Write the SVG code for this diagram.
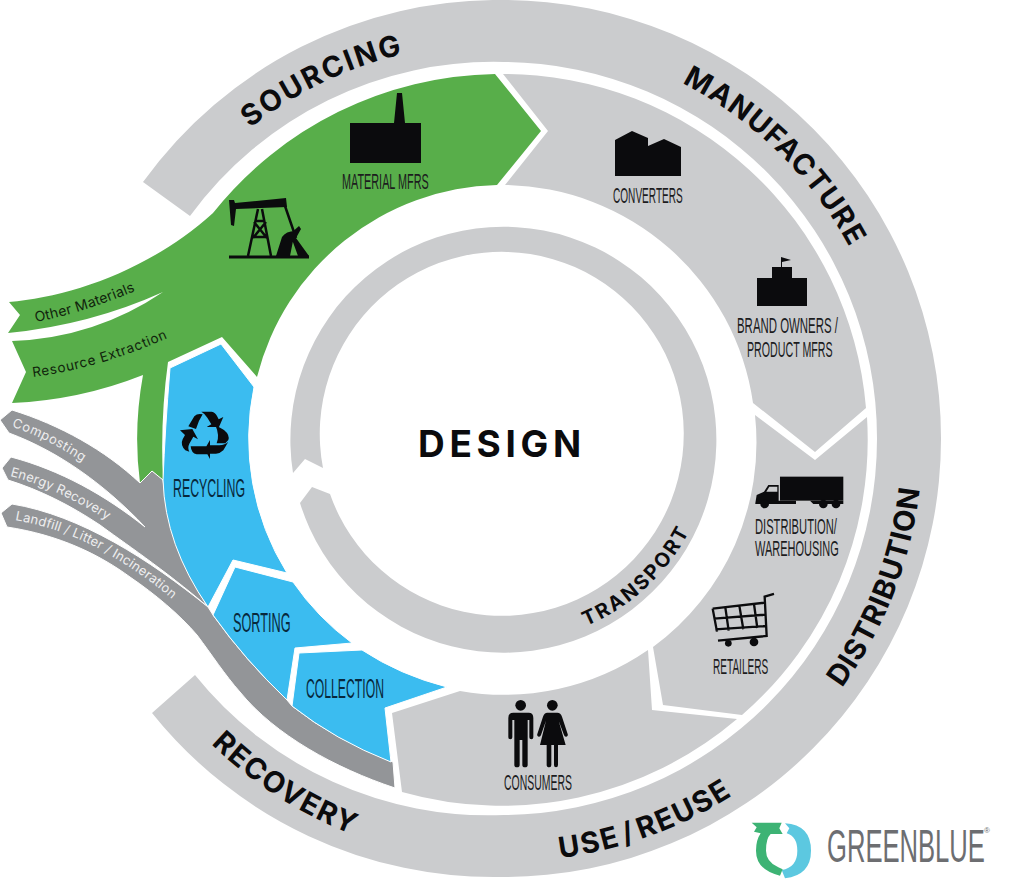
<svg xmlns="http://www.w3.org/2000/svg" width="1024" height="884" viewBox="0 0 1024 884">
<style>
.lg{fill:#cbccce}.gr{fill:#58ae4a}.bl{fill:#3bbcf0;stroke:#fff;stroke-width:1}.dg{fill:#939598;stroke:#fff;stroke-width:1}
.ic{fill:#0b0b0d}.st{fill:none;stroke:#0b0b0d;stroke-linecap:butt}
.c{font-family:"Liberation Sans",Arial,sans-serif;font-size:22px;fill:#1c1c1e;font-weight:400}
.cb{fill:#08283c}
.h{font-family:Inter,"Liberation Sans",sans-serif;font-weight:700;font-size:29px;fill:#0b0b0d}
.s{font-family:Inter,"Open Sans",sans-serif;font-size:13px}
</style>
<defs>
<path id="pSourcing" d="M250 128 A397 397 0 0 1 440 47"/>
<path id="pManu" d="M682 83 A397 397 0 0 1 880 320"/>
<path id="pDist" d="M842 688 A419 419 0 0 0 922 420"/>
<path id="pUse" d="M560 858 A422 422 0 0 0 780 760"/>
<path id="pRec" d="M211 744 A425 425 0 0 0 400 850"/>
<path id="pTrans" d="M586 626 A205 205 0 0 0 712 450"/>
<path id="pOther" d="M36 322 Q90 312 160 280"/>
<path id="pRes" d="M33 377 Q105 368 185 330"/>
<path id="pComp" d="M12 427 Q50 438 100 474"/>
<path id="pEn" d="M10 476 Q65 490 125 532"/>
<path id="pLand" d="M15 520 Q70 530 113 557 Q150 578 190 615"/>
</defs>
<rect width="1024" height="884" fill="#fff"/>
<g id="lifecycle-band">
<path class="lg" d="M143 182 A438 438 0 0 1 504 0 A438 438 0 0 1 941 439 A438 438 0 0 1 504 877 A438 438 0 0 1 152 713 L195 675 A376 376 0 0 0 504 815 A376 376 0 0 0 877 439 A376 376 0 0 0 504 62 A376 376 0 0 0 190 216 Z"/>
</g>
<g id="transport-ring">
<path class="lg" d="M300 503 L312 487 L330 494 A182 182 0 1 0 323 468 L305 459 L293 473 A213 213 0 1 1 300 503 Z"/>
<text class="h" style="font-size:20px;letter-spacing:2.2px"><textPath href="#pTrans">TRANSPORT</textPath></text>
</g>
<g id="design"><text x="418" y="457" font-family="Inter,'Liberation Sans',sans-serif" font-weight="700" font-size="37" letter-spacing="4.7" fill="#0b0b0d">DESIGN</text></g>
<g id="sourcing-label"><text class="h" style="letter-spacing:2.2px"><textPath href="#pSourcing">SOURCING</textPath></text></g>
<g id="manufacture-label"><text class="h" style="letter-spacing:1.2px"><textPath href="#pManu">MANUFACTURE</textPath></text></g>
<g id="distribution-label"><text class="h" style="letter-spacing:.8px"><textPath href="#pDist">DISTRIBUTION</textPath></text></g>
<g id="use-label"><text class="h" style="letter-spacing:1.7px;word-spacing:-5px"><textPath href="#pUse">USE / REUSE</textPath></text></g>
<g id="recovery-label"><text class="h" style="letter-spacing:1.5px"><textPath href="#pRec">RECOVERY</textPath></text></g>

<g id="material-stream">
<path class="gr" d="M495 74 L541 131 L497 185 A254 254 0 0 0 257 377 L222 337 L168 362 Q160 420 163 480 L152 471 L140 483 Q133 430 143 375 Q80 400 12 403 L26 372 L12 341 Q95 338 163 292 Q90 325 8 333 L20 315 L9 302 C70 297 150 270 213 213 A368 368 0 0 1 495 74 Z"/>
<text class="s" fill="#10240c" style="font-size:14px;letter-spacing:.2px"><textPath href="#pOther">Other Materials</textPath></text>
<text class="s" fill="#10240c" style="font-size:13.5px;letter-spacing:.7px"><textPath href="#pRes">Resource Extraction</textPath></text>
<g id="oil-pump">
<rect class="ic" x="229" y="255.500" width="80" height="3"/>
<path class="ic" d="M229 200 L234 200 L235 203 L286 198 L287 207 L236 209 L234 226 L231 225 Z"/>
<path class="st" stroke-width="2.500" d="M258 209 L248 256 M262 209 L271 256 M255 221 H265 M252 237 H268 M254 222 L267 238 M266 222 L253 238 M285 206 L296 238"/>
<path class="ic" d="M276 256 L282 237 Q286 231 295 231 L290 256 Z M290 234 L299 226 L301 229 L296 238 L309 256 H298 Z"/>
</g>
<g id="material-mfrs">
<path class="ic" d="M350 123 H394 L397 93 H402 L405 123 H421 V163 H350 Z"/>
<text class="c" transform="translate(342 189) scale(.493 1)">MATERIAL MFRS</text>
</g>
</g>
<g id="converters">
<path class="lg" d="M503 74 L548 131 L505 185 A254 254 0 0 1 753 403 L815 452 L866 408 A364 364 0 0 0 503 74 Z"/>
<path class="ic" d="M615 140 L632 131 L648 138 V146 L664 139 L681 147 V176 H615 Z"/>
<text class="c" transform="translate(613 203) scale(.458 1)">CONVERTERS</text>
</g>
<g id="brand-owners">
<path class="ic" d="M757 278 H772 V267 H781 V257 L791 260 L782 262 V267 H792 V278 H807 V306 H757 Z"/>
<text class="c" transform="translate(737 333) scale(.52 1)">BRAND OWNERS /</text>
<text class="c" transform="translate(747 357) scale(.485 1)">PRODUCT MFRS</text>
</g>
<g id="distribution">
<path class="lg" d="M755 415 L815 460 L867 417 A364 364 0 0 1 742 715 L663 705 L653 647 A254 254 0 0 0 755 415 Z"/>
<g transform="translate(640 380) scale(.3333)">
<rect class="ic" x="420" y="290" width="190" height="72"/>
<path class="ic" d="M346 370 L350 345 L372 335 L385 315 H416 V362 H468 V372 H346 Z M510 362 H610 V372 H520 Z"/>
<path class="lg" d="M379 335 L388 320 H412 V335 Z"/>
<circle class="ic" cx="374" cy="372" r="13"/><circle class="ic" cx="550" cy="372" r="13"/><circle class="ic" cx="588" cy="372" r="13"/>
</g>
<text class="c" transform="translate(755 534) scale(.508 1)">DISTRIBUTION/</text>
<text class="c" transform="translate(755 556) scale(.499 1)">WAREHOUSING</text>
</g>
<g id="retailers">
<g transform="translate(640 380) scale(.3333)">
<path class="st" stroke-width="7" d="M402 642 L374 650 L380 768 L234 782 M218 686 L374 668 M222 716 L376 704 M226 748 L378 738 M218 686 L231 755 M256 682 L266 752 M298 677 L310 748 M342 672 L352 744"/>
<circle class="ic" cx="265" cy="790" r="10"/><circle class="ic" cx="342" cy="786" r="13"/>
</g>
<text class="c" transform="translate(713 674) scale(.458 1)">RETAILERS</text>
</g>
<g id="consumers">
<path class="lg" d="M392 713 L460 691 A254 254 0 0 0 648 650 L652 710 L737 719 A364 364 0 0 1 402 792 Z"/>
<g transform="translate(490 690) scale(.3333)">
<circle class="ic" cx="92" cy="46" r="16"/><circle class="ic" cx="187" cy="46" r="16"/>
<path class="ic" d="M70 68 H116 Q130 68 130 84 V142 Q130 148 124 148 Q118 148 118 142 V90 H113 V225 Q113 232 105 232 Q97 232 97 225 V150 H89 V225 Q89 232 81 232 Q73 232 73 225 V90 H67 V142 Q67 148 61 148 Q55 148 55 142 V84 Q55 68 70 68 Z"/>
<path class="ic" d="M172 68 H202 Q212 68 216 80 L233 132 Q235 139 229 140 Q224 141 222 135 L206 92 L227 165 H204 V225 Q204 232 198 232 Q192 232 192 225 V165 H184 V225 Q184 232 178 232 Q170 232 170 225 V165 H150 L168 92 L153 135 Q151 141 146 140 Q140 139 142 132 L159 80 Q163 68 172 68 Z"/>
</g>
<text class="c" transform="translate(504 790) scale(.476 1)">CONSUMERS</text>
</g>
<g id="waste-streams">
<path class="dg" d="M12 410 C60 425 105 450 140 483 L152 471 L163 480 Q170 550 208 607 C165 570 120 540 100 525 C70 505 40 490 8 480 L2 468 L11 457 C60 470 105 495 145 527 C105 485 60 452 9 433 L0 420 Z"/>
<path class="dg" d="M12 504 L1 513 L7 527 C60 535 100 555 130 577 C155 594 180 615 197 635 C212 655 225 675 240 692 C275 735 335 768 395 788 L393 762 Q335 740 292 706 L287 700 Q245 660 213 615 L208 607 C150 560 80 515 12 504 Z"/>
<text class="s" fill="#eeeeef" style="letter-spacing:.5px"><textPath href="#pComp">Composting</textPath></text>
<text class="s" fill="#eeeeef" style="letter-spacing:.2px"><textPath href="#pEn">Energy Recovery</textPath></text>
<text class="s" fill="#eeeeef" style="letter-spacing:.2px"><textPath href="#pLand">Landfill / Litter / Incineration</textPath></text>
</g>
<g id="recycling">
<path class="bl" d="M170 368 L221 344 L254 387 A255 255 0 0 0 287 573 L233 560 L208 607 Q165 545 163 480 Q165 430 170 368 Z"/>
<g transform="translate(170 405) scale(.3333)">
<path class="ic" d="M55 64 L73 34 Q82 24 98 28 Q85 48 78 72 Z M94 20 H125 Q136 22 141 33 L146 43 L160 36 L147 66 H110 L124 58 L112 38 Q105 26 94 20 Z M30 76 L67 72 L84 103 L70 95 L58 116 Q52 128 58 140 L46 136 Q30 120 38 103 L45 90 Z M136 60 L162 75 Q180 90 175 105 L166 115 H140 Q150 92 136 60 Z M62 124 H112 V148 H80 Q64 146 62 124 Z M120 105 V121 H148 Q165 120 175 110 L160 136 Q150 146 138 146 H120 V162 L104 133 Z"/>
</g>
<text class="c cb" style="font-size:26px" transform="translate(173 497) scale(.475 1)">RECYCLING</text>
</g>
<g id="sorting">
<path class="bl" d="M235 567 L293 582 A255 255 0 0 0 352 643 L295 648 L287 700 Q245 660 213 615 Z"/>
<text class="c cb" style="font-size:27px" transform="translate(233 632) scale(.471 1)">SORTING</text>
</g>
<g id="collection">
<path class="bl" d="M299 653 L362 650 Q400 675 447 687 L385 708 L391 762 Q335 740 292 706 Z"/>
<text class="c cb" style="font-size:27px" transform="translate(306 698) scale(.452 1)">COLLECTION</text>
</g>
<g id="greenblue-logo">
<g transform="translate(740 780) scale(.3333)">
<path fill="#5cc8e0" d="M135 130 Q213 135 213 212 Q213 285 135 295 L125 270 Q172 262 172 212 Q172 170 140 160 L148 145 Z"/>
<path fill="#3db374" d="M35 128 H125 L118 145 L128 162 H92 Q78 175 78 212 Q78 245 115 262 L128 268 L120 287 Q48 270 48 212 Q48 180 62 160 L42 155 L50 142 Z"/>
</g>
<text transform="translate(827 862) scale(.545 1)" font-family="'Liberation Sans',sans-serif" font-size="47" fill="#6d6e71">GREENBLUE</text>
<text x="984" y="833" font-family="'Liberation Sans',sans-serif" font-size="8" fill="#6d6e71">®</text>
</g>
</svg>
